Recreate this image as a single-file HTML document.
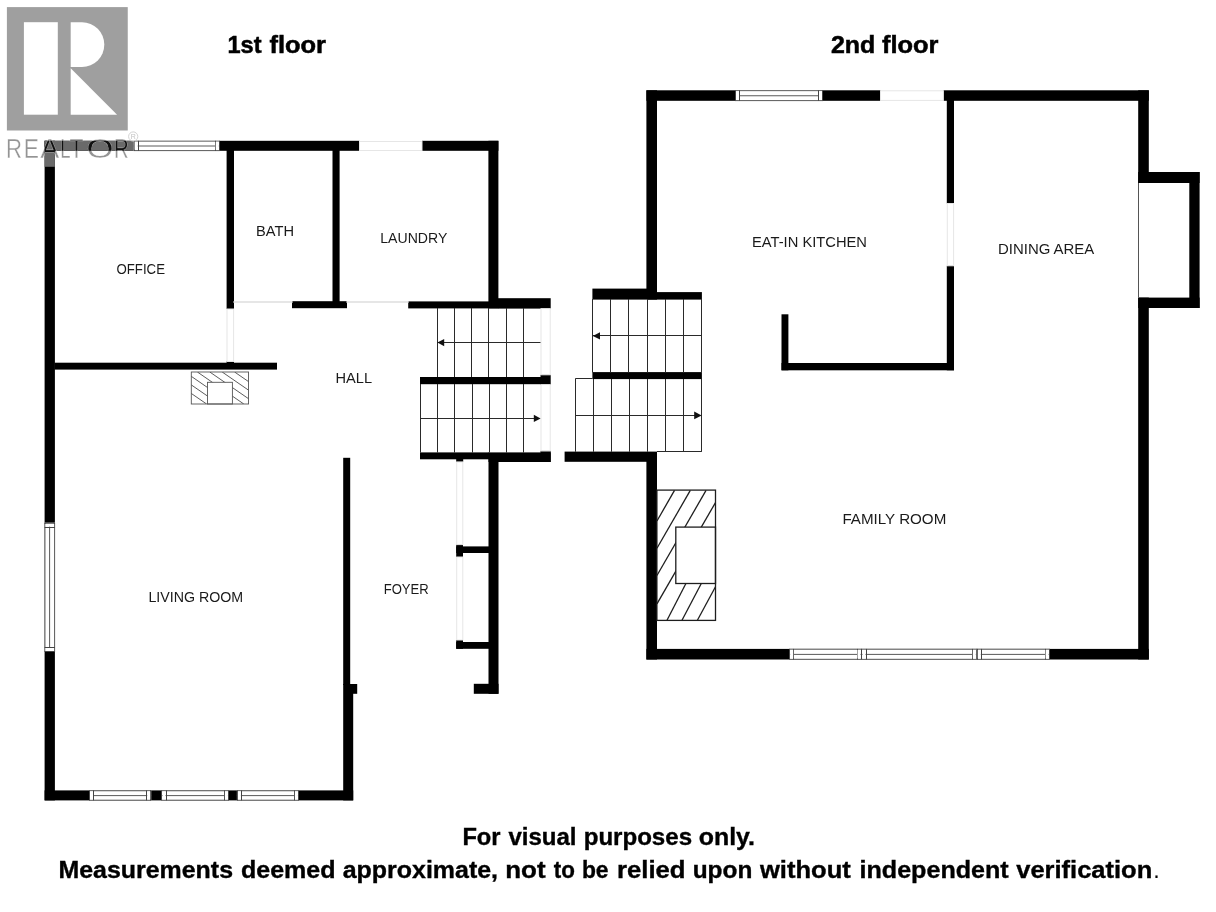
<!DOCTYPE html>
<html><head><meta charset="utf-8"><title>Floor plan</title>
<style>
html,body{margin:0;padding:0;background:#fff;}
svg{display:block;font-family:"Liberation Sans",sans-serif;will-change:transform;filter:grayscale(1);}
</style></head><body>
<svg width="1216" height="912" viewBox="0 0 1216 912">
<rect width="1216" height="912" fill="#fff"/>
<rect x="44.60" y="140.80" width="10.30" height="659.60" fill="#000" />
<rect x="44.60" y="140.80" width="89.00" height="10.00" fill="#000" />
<rect x="219.80" y="140.80" width="139.70" height="10.00" fill="#000" />
<rect x="422.00" y="140.80" width="76.40" height="10.00" fill="#000" />
<rect x="488.40" y="140.80" width="10.00" height="167.60" fill="#000" />
<rect x="226.60" y="150.00" width="7.40" height="159.00" fill="#000" />
<rect x="332.50" y="150.00" width="7.10" height="155.00" fill="#000" />
<rect x="292.00" y="301.20" width="55.00" height="7.00" fill="#000" />
<rect x="408.20" y="301.40" width="89.80" height="7.00" fill="#000" />
<rect x="498.00" y="298.20" width="52.70" height="10.40" fill="#000" />
<rect x="54.50" y="362.70" width="222.50" height="6.90" fill="#000" />
<rect x="226.60" y="361.20" width="7.40" height="1.80" fill="#000" />
<rect x="420.00" y="377.00" width="122.00" height="7.20" fill="#000" />
<rect x="540.50" y="374.80" width="10.20" height="9.80" fill="#000" />
<rect x="420.00" y="452.40" width="69.00" height="6.90" fill="#000" />
<rect x="488.50" y="452.40" width="62.20" height="9.60" fill="#000" />
<rect x="540.50" y="450.90" width="10.20" height="11.10" fill="#000" />
<rect x="456.20" y="459.00" width="7.00" height="2.80" fill="#000" />
<rect x="488.50" y="459.00" width="10.00" height="234.80" fill="#000" />
<rect x="473.80" y="683.80" width="24.70" height="10.00" fill="#000" />
<rect x="456.20" y="546.40" width="32.80" height="6.60" fill="#000" />
<rect x="456.20" y="544.60" width="6.80" height="12.40" fill="#000" />
<rect x="456.20" y="642.00" width="32.80" height="6.80" fill="#000" />
<rect x="456.20" y="640.00" width="6.80" height="8.80" fill="#000" />
<rect x="343.20" y="457.80" width="7.00" height="227.20" fill="#000" />
<rect x="343.20" y="684.00" width="10.00" height="116.40" fill="#000" />
<rect x="350.00" y="684.00" width="7.20" height="9.80" fill="#000" />
<rect x="44.60" y="790.40" width="308.60" height="10.00" fill="#000" />
<rect x="133.60" y="140.80" width="86.20" height="10.00" fill="#fff" />
<line x1="133.60" y1="141.15" x2="219.80" y2="141.15" stroke="#5a5a5a" stroke-width="1.0" />
<line x1="133.60" y1="146.00" x2="219.80" y2="146.00" stroke="#5a5a5a" stroke-width="1.0" />
<line x1="133.60" y1="150.60" x2="219.80" y2="150.60" stroke="#5a5a5a" stroke-width="1.0" />
<line x1="134.50" y1="140.80" x2="134.50" y2="150.80" stroke="#444" stroke-width="1.0" />
<line x1="138.50" y1="140.80" x2="138.50" y2="150.80" stroke="#444" stroke-width="1.0" />
<line x1="215.50" y1="140.80" x2="215.50" y2="150.80" stroke="#444" stroke-width="1.0" />
<line x1="219.50" y1="140.80" x2="219.50" y2="150.80" stroke="#444" stroke-width="1.0" />
<rect x="134.60" y="141.80" width="3.10" height="8.00" fill="#fff" />
<rect x="215.70" y="141.80" width="3.10" height="8.00" fill="#fff" />
<rect x="44.60" y="522.70" width="10.30" height="129.30" fill="#fff" />
<line x1="44.95" y1="522.70" x2="44.95" y2="652.00" stroke="#5a5a5a" stroke-width="1.0" />
<line x1="49.60" y1="522.70" x2="49.60" y2="652.00" stroke="#5a5a5a" stroke-width="1.0" />
<line x1="54.60" y1="522.70" x2="54.60" y2="652.00" stroke="#5a5a5a" stroke-width="1.0" />
<line x1="44.60" y1="523.50" x2="54.90" y2="523.50" stroke="#444" stroke-width="1.0" />
<line x1="44.60" y1="527.50" x2="54.90" y2="527.50" stroke="#444" stroke-width="1.0" />
<line x1="44.60" y1="647.50" x2="54.90" y2="647.50" stroke="#444" stroke-width="1.0" />
<line x1="44.60" y1="651.50" x2="54.90" y2="651.50" stroke="#444" stroke-width="1.0" />
<rect x="45.60" y="523.70" width="8.30" height="3.00" fill="#fff" />
<rect x="45.60" y="648.00" width="8.30" height="3.00" fill="#fff" />
<rect x="89.00" y="790.40" width="62.20" height="10.00" fill="#fff" />
<line x1="89.00" y1="790.75" x2="151.20" y2="790.75" stroke="#5a5a5a" stroke-width="1.0" />
<line x1="89.00" y1="795.60" x2="151.20" y2="795.60" stroke="#5a5a5a" stroke-width="1.0" />
<line x1="89.00" y1="800.20" x2="151.20" y2="800.20" stroke="#5a5a5a" stroke-width="1.0" />
<line x1="89.50" y1="790.40" x2="89.50" y2="800.40" stroke="#444" stroke-width="1.0" />
<line x1="93.50" y1="790.40" x2="93.50" y2="800.40" stroke="#444" stroke-width="1.0" />
<line x1="146.50" y1="790.40" x2="146.50" y2="800.40" stroke="#444" stroke-width="1.0" />
<line x1="150.50" y1="790.40" x2="150.50" y2="800.40" stroke="#444" stroke-width="1.0" />
<rect x="90.00" y="791.40" width="3.00" height="8.00" fill="#fff" />
<rect x="147.20" y="791.40" width="3.00" height="8.00" fill="#fff" />
<rect x="161.50" y="790.40" width="67.40" height="10.00" fill="#fff" />
<line x1="161.50" y1="790.75" x2="228.90" y2="790.75" stroke="#5a5a5a" stroke-width="1.0" />
<line x1="161.50" y1="795.60" x2="228.90" y2="795.60" stroke="#5a5a5a" stroke-width="1.0" />
<line x1="161.50" y1="800.20" x2="228.90" y2="800.20" stroke="#5a5a5a" stroke-width="1.0" />
<line x1="161.50" y1="790.40" x2="161.50" y2="800.40" stroke="#444" stroke-width="1.0" />
<line x1="166.50" y1="790.40" x2="166.50" y2="800.40" stroke="#444" stroke-width="1.0" />
<line x1="224.50" y1="790.40" x2="224.50" y2="800.40" stroke="#444" stroke-width="1.0" />
<line x1="228.50" y1="790.40" x2="228.50" y2="800.40" stroke="#444" stroke-width="1.0" />
<rect x="162.50" y="791.40" width="3.00" height="8.00" fill="#fff" />
<rect x="224.90" y="791.40" width="3.00" height="8.00" fill="#fff" />
<rect x="236.90" y="790.40" width="62.00" height="10.00" fill="#fff" />
<line x1="236.90" y1="790.75" x2="298.90" y2="790.75" stroke="#5a5a5a" stroke-width="1.0" />
<line x1="236.90" y1="795.60" x2="298.90" y2="795.60" stroke="#5a5a5a" stroke-width="1.0" />
<line x1="236.90" y1="800.20" x2="298.90" y2="800.20" stroke="#5a5a5a" stroke-width="1.0" />
<line x1="237.50" y1="790.40" x2="237.50" y2="800.40" stroke="#444" stroke-width="1.0" />
<line x1="241.50" y1="790.40" x2="241.50" y2="800.40" stroke="#444" stroke-width="1.0" />
<line x1="294.50" y1="790.40" x2="294.50" y2="800.40" stroke="#444" stroke-width="1.0" />
<line x1="298.50" y1="790.40" x2="298.50" y2="800.40" stroke="#444" stroke-width="1.0" />
<rect x="237.90" y="791.40" width="3.00" height="8.00" fill="#fff" />
<rect x="294.90" y="791.40" width="3.00" height="8.00" fill="#fff" />
<rect x="359.50" y="141.50" width="62.50" height="9.00" fill="none" stroke="#e6e6e6" stroke-width="1"/>
<rect x="234.00" y="301.50" width="58.00" height="1.00" fill="none" stroke="#e6e6e6" stroke-width="1"/>
<rect x="347.00" y="301.50" width="61.00" height="1.00" fill="none" stroke="#e6e6e6" stroke-width="1"/>
<rect x="227.00" y="309.00" width="6.60" height="52.50" fill="none" stroke="#e6e6e6" stroke-width="1"/>
<rect x="541.00" y="308.60" width="9.20" height="66.20" fill="none" stroke="#e6e6e6" stroke-width="1"/>
<rect x="541.00" y="384.60" width="9.20" height="66.40" fill="none" stroke="#e6e6e6" stroke-width="1"/>
<rect x="456.70" y="462.00" width="6.10" height="82.60" fill="none" stroke="#e6e6e6" stroke-width="1"/>
<rect x="456.70" y="557.00" width="6.10" height="83.00" fill="none" stroke="#e6e6e6" stroke-width="1"/>
<line x1="437.50" y1="308.00" x2="437.50" y2="377.00" stroke="#2a2a2a" stroke-width="1.0" />
<line x1="454.50" y1="308.00" x2="454.50" y2="377.00" stroke="#2a2a2a" stroke-width="1.0" />
<line x1="471.50" y1="308.00" x2="471.50" y2="377.00" stroke="#2a2a2a" stroke-width="1.0" />
<line x1="488.50" y1="308.00" x2="488.50" y2="377.00" stroke="#2a2a2a" stroke-width="1.0" />
<line x1="506.50" y1="308.00" x2="506.50" y2="377.00" stroke="#2a2a2a" stroke-width="1.0" />
<line x1="523.50" y1="308.00" x2="523.50" y2="377.00" stroke="#2a2a2a" stroke-width="1.0" />
<line x1="437.20" y1="342.50" x2="540.50" y2="342.50" stroke="#2a2a2a" stroke-width="1.0" />
<polygon points="437.4,342.6 444.2,339 444.2,346.2" fill="#111"/>
<line x1="420.50" y1="384.00" x2="420.50" y2="452.60" stroke="#2a2a2a" stroke-width="1.0" />
<line x1="437.50" y1="384.00" x2="437.50" y2="452.60" stroke="#2a2a2a" stroke-width="1.0" />
<line x1="454.50" y1="384.00" x2="454.50" y2="452.60" stroke="#2a2a2a" stroke-width="1.0" />
<line x1="472.50" y1="384.00" x2="472.50" y2="452.60" stroke="#2a2a2a" stroke-width="1.0" />
<line x1="489.50" y1="384.00" x2="489.50" y2="452.60" stroke="#2a2a2a" stroke-width="1.0" />
<line x1="506.50" y1="384.00" x2="506.50" y2="452.60" stroke="#2a2a2a" stroke-width="1.0" />
<line x1="523.50" y1="384.00" x2="523.50" y2="452.60" stroke="#2a2a2a" stroke-width="1.0" />
<line x1="420.50" y1="418.50" x2="536.00" y2="418.50" stroke="#2a2a2a" stroke-width="1.0" />
<polygon points="540.6,418.4 533.8,414.8 533.8,422" fill="#111"/>
<clipPath id="fp1"><rect x="191.3" y="372" width="57.25" height="32"/></clipPath>
<g clip-path="url(#fp1)">
<line x1="160.20" y1="372.00" x2="206.60" y2="404.00" stroke="#4a4a4a" stroke-width="0.9" />
<line x1="172.60" y1="372.00" x2="219.00" y2="404.00" stroke="#4a4a4a" stroke-width="0.9" />
<line x1="185.00" y1="372.00" x2="231.40" y2="404.00" stroke="#4a4a4a" stroke-width="0.9" />
<line x1="197.40" y1="372.00" x2="243.80" y2="404.00" stroke="#4a4a4a" stroke-width="0.9" />
<line x1="209.80" y1="372.00" x2="256.20" y2="404.00" stroke="#4a4a4a" stroke-width="0.9" />
<line x1="222.20" y1="372.00" x2="268.60" y2="404.00" stroke="#4a4a4a" stroke-width="0.9" />
<line x1="234.60" y1="372.00" x2="281.00" y2="404.00" stroke="#4a4a4a" stroke-width="0.9" />
</g>
<rect x="207.50" y="382.30" width="24.90" height="21.70" fill="#fff" />
<rect x="191.3" y="372" width="57.25" height="32" fill="none" stroke="#555" stroke-width="0.9"/>
<rect x="207.5" y="382.3" width="24.9" height="21.7" fill="none" stroke="#555" stroke-width="0.9"/>
<rect x="646.40" y="90.30" width="10.60" height="208.70" fill="#000" />
<rect x="646.40" y="452.00" width="10.60" height="207.50" fill="#000" />
<rect x="646.40" y="90.30" width="88.60" height="10.50" fill="#000" />
<rect x="823.00" y="90.30" width="57.50" height="10.50" fill="#000" />
<rect x="943.40" y="90.30" width="205.40" height="10.50" fill="#000" />
<rect x="946.80" y="100.00" width="7.20" height="103.50" fill="#000" />
<rect x="946.80" y="265.80" width="7.20" height="104.50" fill="#000" />
<rect x="781.50" y="363.00" width="172.50" height="7.30" fill="#000" />
<rect x="781.50" y="314.30" width="6.90" height="56.00" fill="#000" />
<rect x="1138.20" y="90.30" width="10.60" height="92.70" fill="#000" />
<rect x="1138.20" y="172.00" width="61.40" height="11.00" fill="#000" />
<rect x="1189.30" y="172.00" width="10.30" height="136.00" fill="#000" />
<rect x="1138.20" y="297.60" width="61.40" height="10.40" fill="#000" />
<rect x="1138.20" y="297.60" width="10.60" height="361.90" fill="#000" />
<rect x="646.40" y="648.90" width="502.40" height="10.60" fill="#000" />
<rect x="592.40" y="288.60" width="64.60" height="11.00" fill="#000" />
<rect x="647.00" y="292.10" width="54.90" height="7.50" fill="#000" />
<rect x="592.40" y="372.10" width="109.50" height="7.00" fill="#000" />
<rect x="564.60" y="451.60" width="92.40" height="10.20" fill="#000" />
<rect x="735.00" y="90.30" width="88.00" height="10.50" fill="#fff" />
<line x1="735.00" y1="90.65" x2="823.00" y2="90.65" stroke="#5a5a5a" stroke-width="1.0" />
<line x1="735.00" y1="95.75" x2="823.00" y2="95.75" stroke="#5a5a5a" stroke-width="1.0" />
<line x1="735.00" y1="100.60" x2="823.00" y2="100.60" stroke="#5a5a5a" stroke-width="1.0" />
<line x1="735.50" y1="90.30" x2="735.50" y2="100.80" stroke="#444" stroke-width="1.0" />
<line x1="739.50" y1="90.30" x2="739.50" y2="100.80" stroke="#444" stroke-width="1.0" />
<line x1="818.50" y1="90.30" x2="818.50" y2="100.80" stroke="#444" stroke-width="1.0" />
<line x1="822.50" y1="90.30" x2="822.50" y2="100.80" stroke="#444" stroke-width="1.0" />
<rect x="736.00" y="91.30" width="3.00" height="8.50" fill="#fff" />
<rect x="819.00" y="91.30" width="3.00" height="8.50" fill="#fff" />
<rect x="789.20" y="648.90" width="72.30" height="10.60" fill="#fff" />
<line x1="789.20" y1="649.25" x2="861.50" y2="649.25" stroke="#5a5a5a" stroke-width="1.0" />
<line x1="789.20" y1="654.40" x2="861.50" y2="654.40" stroke="#5a5a5a" stroke-width="1.0" />
<line x1="789.20" y1="659.30" x2="861.50" y2="659.30" stroke="#5a5a5a" stroke-width="1.0" />
<line x1="789.50" y1="648.90" x2="789.50" y2="659.50" stroke="#444" stroke-width="1.0" />
<line x1="793.50" y1="648.90" x2="793.50" y2="659.50" stroke="#444" stroke-width="1.0" />
<line x1="857.50" y1="648.90" x2="857.50" y2="659.50" stroke="#444" stroke-width="1.0" />
<line x1="861.50" y1="648.90" x2="861.50" y2="659.50" stroke="#444" stroke-width="1.0" />
<rect x="790.20" y="649.90" width="3.00" height="8.60" fill="#fff" />
<rect x="857.50" y="649.90" width="3.00" height="8.60" fill="#fff" />
<rect x="861.50" y="648.90" width="115.30" height="10.60" fill="#fff" />
<line x1="861.50" y1="649.25" x2="976.80" y2="649.25" stroke="#5a5a5a" stroke-width="1.0" />
<line x1="861.50" y1="654.40" x2="976.80" y2="654.40" stroke="#5a5a5a" stroke-width="1.0" />
<line x1="861.50" y1="659.30" x2="976.80" y2="659.30" stroke="#5a5a5a" stroke-width="1.0" />
<line x1="861.50" y1="648.90" x2="861.50" y2="659.50" stroke="#444" stroke-width="1.0" />
<line x1="866.50" y1="648.90" x2="866.50" y2="659.50" stroke="#444" stroke-width="1.0" />
<line x1="972.50" y1="648.90" x2="972.50" y2="659.50" stroke="#444" stroke-width="1.0" />
<line x1="976.50" y1="648.90" x2="976.50" y2="659.50" stroke="#444" stroke-width="1.0" />
<rect x="862.50" y="649.90" width="3.00" height="8.60" fill="#fff" />
<rect x="972.80" y="649.90" width="3.00" height="8.60" fill="#fff" />
<rect x="976.80" y="648.90" width="72.80" height="10.60" fill="#fff" />
<line x1="976.80" y1="649.25" x2="1049.60" y2="649.25" stroke="#5a5a5a" stroke-width="1.0" />
<line x1="976.80" y1="654.40" x2="1049.60" y2="654.40" stroke="#5a5a5a" stroke-width="1.0" />
<line x1="976.80" y1="659.30" x2="1049.60" y2="659.30" stroke="#5a5a5a" stroke-width="1.0" />
<line x1="977.50" y1="648.90" x2="977.50" y2="659.50" stroke="#444" stroke-width="1.0" />
<line x1="981.50" y1="648.90" x2="981.50" y2="659.50" stroke="#444" stroke-width="1.0" />
<line x1="1045.50" y1="648.90" x2="1045.50" y2="659.50" stroke="#444" stroke-width="1.0" />
<line x1="1049.50" y1="648.90" x2="1049.50" y2="659.50" stroke="#444" stroke-width="1.0" />
<rect x="977.80" y="649.90" width="3.00" height="8.60" fill="#fff" />
<rect x="1045.60" y="649.90" width="3.00" height="8.60" fill="#fff" />
<rect x="880.50" y="90.80" width="62.90" height="9.60" fill="none" stroke="#e6e6e6" stroke-width="1"/>
<rect x="947.30" y="203.50" width="6.30" height="62.30" fill="none" stroke="#e6e6e6" stroke-width="1"/>
<line x1="1138.50" y1="183.00" x2="1138.50" y2="297.60" stroke="#555" stroke-width="1.0" />
<line x1="592.50" y1="299.00" x2="592.50" y2="372.50" stroke="#2a2a2a" stroke-width="1.0" />
<line x1="610.50" y1="299.00" x2="610.50" y2="372.50" stroke="#2a2a2a" stroke-width="1.0" />
<line x1="628.50" y1="299.00" x2="628.50" y2="372.50" stroke="#2a2a2a" stroke-width="1.0" />
<line x1="647.50" y1="299.00" x2="647.50" y2="372.50" stroke="#2a2a2a" stroke-width="1.0" />
<line x1="665.50" y1="299.00" x2="665.50" y2="372.50" stroke="#2a2a2a" stroke-width="1.0" />
<line x1="683.50" y1="299.00" x2="683.50" y2="372.50" stroke="#2a2a2a" stroke-width="1.0" />
<line x1="701.50" y1="299.00" x2="701.50" y2="372.50" stroke="#2a2a2a" stroke-width="1.0" />
<line x1="592.60" y1="335.50" x2="701.60" y2="335.50" stroke="#2a2a2a" stroke-width="1.0" />
<polygon points="592.8,335.9 600,332.2 600,339.6" fill="#111"/>
<line x1="575.50" y1="379.00" x2="575.50" y2="451.80" stroke="#2a2a2a" stroke-width="1.0" />
<line x1="593.50" y1="379.00" x2="593.50" y2="451.80" stroke="#2a2a2a" stroke-width="1.0" />
<line x1="611.50" y1="379.00" x2="611.50" y2="451.80" stroke="#2a2a2a" stroke-width="1.0" />
<line x1="629.50" y1="379.00" x2="629.50" y2="451.80" stroke="#2a2a2a" stroke-width="1.0" />
<line x1="647.50" y1="379.00" x2="647.50" y2="451.80" stroke="#2a2a2a" stroke-width="1.0" />
<line x1="665.50" y1="379.00" x2="665.50" y2="451.80" stroke="#2a2a2a" stroke-width="1.0" />
<line x1="683.50" y1="379.00" x2="683.50" y2="451.80" stroke="#2a2a2a" stroke-width="1.0" />
<line x1="701.50" y1="379.00" x2="701.50" y2="451.80" stroke="#2a2a2a" stroke-width="1.0" />
<line x1="575.20" y1="378.50" x2="592.40" y2="378.50" stroke="#2a2a2a" stroke-width="1.0" />
<line x1="575.20" y1="415.50" x2="697.00" y2="415.50" stroke="#2a2a2a" stroke-width="1.0" />
<line x1="657.00" y1="451.50" x2="701.60" y2="451.50" stroke="#2a2a2a" stroke-width="1.0" />
<polygon points="701.6,415.4 694.2,411.6 694.2,419.2" fill="#111"/>
<line x1="656.95" y1="521.00" x2="674.50" y2="490.40" stroke="#1e1e1e" stroke-width="1.3" />
<line x1="656.95" y1="548.30" x2="690.30" y2="490.40" stroke="#1e1e1e" stroke-width="1.3" />
<line x1="656.95" y1="575.50" x2="706.05" y2="490.40" stroke="#1e1e1e" stroke-width="1.3" />
<line x1="656.95" y1="603.80" x2="715.50" y2="502.55" stroke="#1e1e1e" stroke-width="1.3" />
<line x1="667.00" y1="620.30" x2="685.90" y2="583.50" stroke="#1e1e1e" stroke-width="1.3" />
<line x1="682.00" y1="620.30" x2="701.30" y2="583.50" stroke="#1e1e1e" stroke-width="1.3" />
<line x1="697.40" y1="620.30" x2="715.50" y2="586.80" stroke="#1e1e1e" stroke-width="1.3" />
<rect x="675.80" y="527.10" width="39.70" height="56.40" fill="#fff" />
<rect x="656.9" y="490.1" width="58.6" height="130.3" fill="none" stroke="#1e1e1e" stroke-width="1.3"/>
<rect x="675.8" y="527.1" width="39.7" height="56.4" fill="none" stroke="#1e1e1e" stroke-width="1.3"/>
<text x="116.50" y="274.20" font-size="15.1" font-weight="normal" fill="#1a1a1a" text-anchor="start" textLength="48.5" lengthAdjust="spacingAndGlyphs" >OFFICE</text>
<text x="256.00" y="235.70" font-size="15.1" font-weight="normal" fill="#1a1a1a" text-anchor="start" textLength="38.0" lengthAdjust="spacingAndGlyphs" >BATH</text>
<text x="380.30" y="243.20" font-size="15.1" font-weight="normal" fill="#1a1a1a" text-anchor="start" textLength="67.0" lengthAdjust="spacingAndGlyphs" >LAUNDRY</text>
<text x="335.50" y="382.90" font-size="15.1" font-weight="normal" fill="#1a1a1a" text-anchor="start" textLength="36.5" lengthAdjust="spacingAndGlyphs" >HALL</text>
<text x="148.40" y="601.80" font-size="15.1" font-weight="normal" fill="#1a1a1a" text-anchor="start" textLength="94.8" lengthAdjust="spacingAndGlyphs" >LIVING ROOM</text>
<text x="383.70" y="593.70" font-size="15.1" font-weight="normal" fill="#1a1a1a" text-anchor="start" textLength="45.1" lengthAdjust="spacingAndGlyphs" >FOYER</text>
<text x="752.00" y="247.40" font-size="15.1" font-weight="normal" fill="#1a1a1a" text-anchor="start" textLength="115.0" lengthAdjust="spacingAndGlyphs" >EAT-IN KITCHEN</text>
<text x="998.00" y="253.70" font-size="15.1" font-weight="normal" fill="#1a1a1a" text-anchor="start" textLength="96.3" lengthAdjust="spacingAndGlyphs" >DINING AREA</text>
<text x="842.40" y="524.30" font-size="15.1" font-weight="normal" fill="#1a1a1a" text-anchor="start" textLength="103.9" lengthAdjust="spacingAndGlyphs" >FAMILY ROOM</text>
<text y="52.9" font-size="23.4" font-weight="bold" fill="#000" stroke="#000" stroke-width="0.5"><tspan x="227.45" textLength="34.04" lengthAdjust="spacingAndGlyphs">1st</tspan> <tspan x="269.49" textLength="56.53" lengthAdjust="spacingAndGlyphs">floor</tspan></text>
<text y="52.9" font-size="23.4" font-weight="bold" fill="#000" stroke="#000" stroke-width="0.5"><tspan x="830.97" textLength="44.32" lengthAdjust="spacingAndGlyphs">2nd</tspan> <tspan x="882.00" textLength="56.51" lengthAdjust="spacingAndGlyphs">floor</tspan></text>
<text y="844.5" font-size="23.3" font-weight="bold" fill="#000" stroke="#000" stroke-width="0.35"><tspan x="462.43" textLength="38.11" lengthAdjust="spacingAndGlyphs">For</tspan> <tspan x="508.51" textLength="68.02" lengthAdjust="spacingAndGlyphs">visual</tspan> <tspan x="583.72" textLength="108.30" lengthAdjust="spacingAndGlyphs">purposes</tspan> <tspan x="698.73" textLength="56.30" lengthAdjust="spacingAndGlyphs">only.</tspan></text>
<text y="878.3" font-size="23.3" font-weight="bold" fill="#000" stroke="#000" stroke-width="0.35"><tspan x="58.48" textLength="174.53" lengthAdjust="spacingAndGlyphs">Measurements</tspan> <tspan x="240.98" textLength="94.56" lengthAdjust="spacingAndGlyphs">deemed</tspan> <tspan x="342.74" textLength="155.27" lengthAdjust="spacingAndGlyphs">approximate,</tspan> <tspan x="505.19" textLength="40.35" lengthAdjust="spacingAndGlyphs">not</tspan> <tspan x="553.72" textLength="21.11" lengthAdjust="spacingAndGlyphs">to</tspan> <tspan x="581.91" textLength="26.65" lengthAdjust="spacingAndGlyphs">be</tspan> <tspan x="616.97" textLength="68.59" lengthAdjust="spacingAndGlyphs">relied</tspan> <tspan x="692.69" textLength="59.62" lengthAdjust="spacingAndGlyphs">upon</tspan> <tspan x="760.00" textLength="90.75" lengthAdjust="spacingAndGlyphs">without</tspan> <tspan x="859.49" textLength="149.26" lengthAdjust="spacingAndGlyphs">independent</tspan> <tspan x="1016.25" textLength="136.01" lengthAdjust="spacingAndGlyphs">verification</tspan><tspan x="1153.2" font-weight="normal" stroke="none">.</tspan></text>
<rect x="6.9" y="7.1" width="120.85" height="123.4" fill="#9f9f9f"/>
<rect x="23.9" y="22.2" width="33.9" height="92.5" fill="#fff"/>
<path d="M70.7,22.2 H82 A22.3,22.4 0 0 1 82,67 H70.7 Z" fill="#fff"/>
<path d="M70.7,68.3 L117.1,114.7 H70.7 Z" fill="#fff"/>
<rect x="44.6" y="140.8" width="89" height="10" fill="#6a6a6a"/>
<rect x="44.6" y="140.8" width="10.3" height="26" fill="#6a6a6a"/>
<clipPath id="wc"><rect x="44.6" y="140.8" width="89" height="10"/><rect x="44.6" y="140.8" width="10.3" height="26"/></clipPath>
<text y="158.3" font-size="26.8" fill="#949494" stroke="#fff" stroke-width="0.35" ><tspan x="5.95" textLength="16.02" lengthAdjust="spacingAndGlyphs">R</tspan><tspan x="23.70" textLength="15.18" lengthAdjust="spacingAndGlyphs">E</tspan><tspan x="40.24" textLength="19.01" lengthAdjust="spacingAndGlyphs">A</tspan><tspan x="60.19" textLength="10.30" lengthAdjust="spacingAndGlyphs">L</tspan><tspan x="69.42" textLength="13.96" lengthAdjust="spacingAndGlyphs">T</tspan><tspan x="86.57" textLength="26.96" lengthAdjust="spacingAndGlyphs">O</tspan><tspan x="113.90" textLength="14.67" lengthAdjust="spacingAndGlyphs">R</tspan></text>
<text y="158.3" font-size="26.8" fill="#111" stroke="#6a6a6a" stroke-width="0.3" clip-path="url(#wc)"><tspan x="5.95" textLength="16.02" lengthAdjust="spacingAndGlyphs">R</tspan><tspan x="23.70" textLength="15.18" lengthAdjust="spacingAndGlyphs">E</tspan><tspan x="40.24" textLength="19.01" lengthAdjust="spacingAndGlyphs">A</tspan><tspan x="60.19" textLength="10.30" lengthAdjust="spacingAndGlyphs">L</tspan><tspan x="69.42" textLength="13.96" lengthAdjust="spacingAndGlyphs">T</tspan><tspan x="86.57" textLength="26.96" lengthAdjust="spacingAndGlyphs">O</tspan><tspan x="113.90" textLength="14.67" lengthAdjust="spacingAndGlyphs">R</tspan></text>
<circle cx="133.2" cy="136.5" r="4.6" fill="#fff" fill-opacity="0.6" stroke="#cdcdcd" stroke-width="0.9"/>
<text x="133.2" y="139.1" font-size="7" fill="#c2c2c2" text-anchor="middle">R</text>
</svg>
</body></html>
